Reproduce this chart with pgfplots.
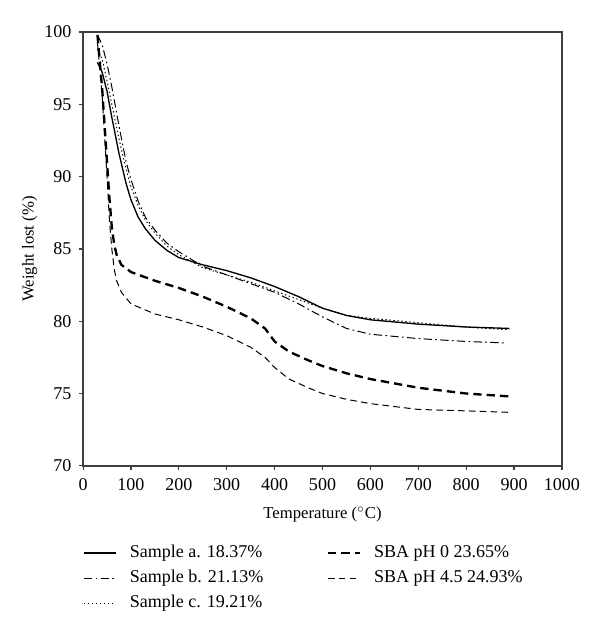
\documentclass[border=0pt]{standalone}
\usepackage{pgfplots}
\pgfplotsset{compat=1.18}
\usepackage{fontspec}
\setmainfont{Liberation Serif}
\begin{document}
\begin{tikzpicture}
\begin{axis}[
  scale only axis,
  width=287pt, height=260pt,
  xmin=0, xmax=1000, ymin=70, ymax=100,
  xtick={0,100,...,1000}, ytick={70,75,...,100},
  tick align=outside, tick pos=left,
  major tick length=2.5pt,
  axis line style={black!75, line width=0.9pt},
  tick style={black!75, line width=0.7pt},
  /pgf/number format/assume math mode=true,
  /pgf/number format/1000 sep={},
  tick label style={font=\fontsize{10.8}{12}\selectfont},
  xticklabel style={yshift=-1.5pt},
  yticklabel style={xshift=-1pt},
  xlabel={Temperature ($^{\circ}$C)},
  ylabel={Weight lost (\%)},
  label style={font=\fontsize{10.8}{12}\selectfont},
  every axis x label/.style={at={(axis description cs:0.5,-0.1115)}, anchor=center},
  every axis y label/.style={at={(axis description cs:-0.1115,0.5)}, anchor=center, rotate=90},
  legend columns=2,
  legend image code/.code={\draw[#1] (0pt,0pt) -- (19pt,0pt);},
  legend style={at={(axis description cs:0,-0.181)}, anchor=north west, draw=none, fill=none,
    inner sep=0pt, row sep=5pt,
    font=\fontsize{10.8}{12}\selectfont,
    nodes={inner sep=0pt, text height=7.5pt, text depth=2.5pt},
    /tikz/every odd column/.append style={column sep=8pt},
    /tikz/every even column/.append style={column sep=0pt}},
  legend cell align=left,
]
% Sample a
\addplot[black, line width=0.8pt] coordinates {
(30,97.9)(40,97.2)(50,95.9)(60,94.1)(75,91.6)(90,89.5)(100,88.4)(115,87.2)(130,86.4)(150,85.6)(175,84.9)(200,84.4)(250,83.9)(300,83.5)(350,83.0)(400,82.4)(450,81.7)(500,80.9)(550,80.4)(600,80.1)(700,79.8)(800,79.6)(890,79.5)};
\addlegendentry{\makebox[118pt][l]{Sample a. 18.37\%}}
% SBA pH 0
\addplot[black, line width=1.4pt, dash pattern=on 5pt off 3pt] coordinates {
(30,99.8)(40,96)(50,91)(55,88.5)(60,86.5)(65,85.3)(70,84.6)(80,83.9)(100,83.4)(150,82.8)(200,82.3)(250,81.7)(300,81.0)(350,80.2)(380,79.5)(400,78.6)(430,77.9)(470,77.3)(500,76.9)(550,76.4)(600,76.0)(700,75.4)(800,75.0)(890,74.8)};
\addlegendentry{SBA pH 0 23.65\%}
% Sample b
\addplot[black, line width=0.6pt, dash pattern=on 5pt off 2pt on 1pt off 2pt] coordinates {
(30,99.8)(40,99.1)(50,97.8)(60,96.2)(75,93.5)(90,91)(100,89.8)(115,88.3)(130,87.2)(150,86.3)(175,85.4)(200,84.8)(250,83.8)(300,83.2)(350,82.6)(400,82.0)(450,81.2)(500,80.3)(550,79.5)(600,79.1)(700,78.8)(800,78.6)(880,78.5)};
\addlegendentry{\makebox[118pt][l]{Sample b. 21.13\%}}
% SBA pH 4.5
\addplot[black, line width=0.6pt, dash pattern=on 4pt off 2.5pt] coordinates {
(30,99.3)(40,95.5)(50,90)(55,87)(60,85)(65,83.6)(70,82.8)(80,82)(100,81.2)(150,80.5)(200,80.1)(250,79.6)(300,79.0)(350,78.2)(380,77.5)(400,76.8)(430,76.0)(470,75.4)(500,75.0)(550,74.6)(600,74.3)(700,73.9)(800,73.8)(890,73.7)};
\addlegendentry{SBA pH 4.5 24.93\%}
% Sample c
\addplot[black, line width=0.6pt, dash pattern=on 0.8pt off 1.6pt] coordinates {
(30,98.8)(40,98.1)(50,96.6)(60,95)(75,92.6)(90,90.5)(100,89.3)(115,88)(130,87)(150,86.1)(175,85.2)(200,84.6)(250,83.7)(300,83.2)(350,82.7)(400,82.1)(450,81.5)(500,80.9)(550,80.4)(600,80.2)(700,79.9)(800,79.6)(890,79.4)};
\addlegendentry{\makebox[118pt][l]{Sample c. 19.21\%}}
\coordinate (bl) at (rel axis cs:0,0);
\coordinate (tr) at (rel axis cs:1,1);
\end{axis}
\pgfresetboundingbox
\path[use as bounding box] ([shift={(-49.8pt,-102pt)}]bl) rectangle ([shift={(23.4pt,19.2pt)}]tr);
\end{tikzpicture}
\end{document}
